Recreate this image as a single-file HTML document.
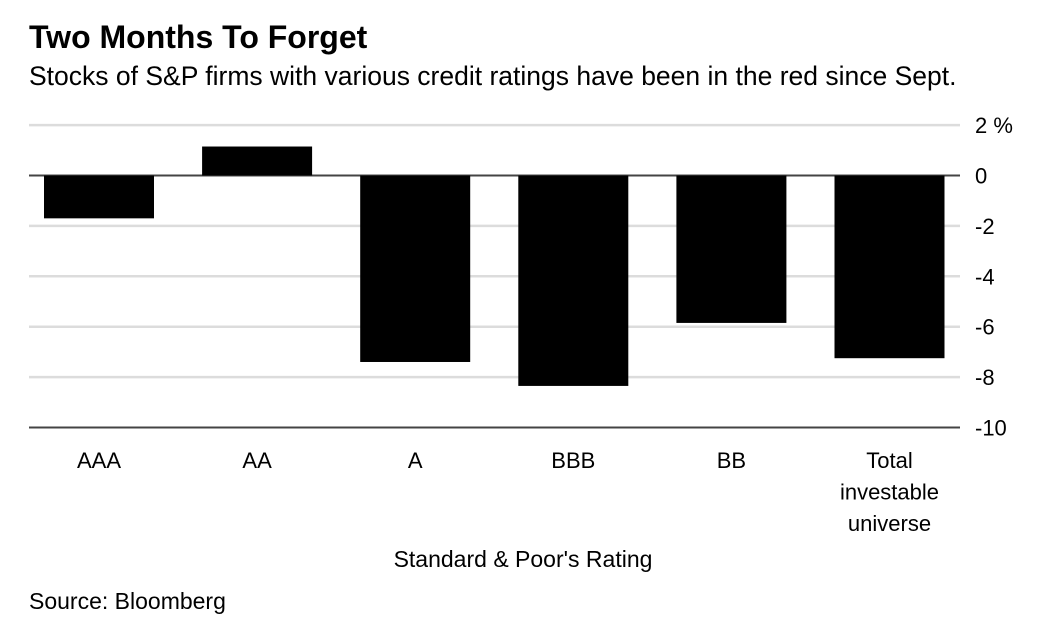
<!DOCTYPE html>
<html><head><meta charset="utf-8"><style>
html,body{margin:0;padding:0;background:#fff;width:1040px;height:624px;overflow:hidden;font-family:"Liberation Sans",sans-serif;}
</style></head><body>
<svg width="1040" height="624" xmlns="http://www.w3.org/2000/svg">
<text x="29" y="48" font-size="32" font-weight="bold" fill="#000">Two Months To Forget</text>
<text x="29" y="85" font-size="26.5" fill="#000">Stocks of S&amp;P firms with various credit ratings have been in the red since Sept.</text>
<g id="grid"></g><g id="bars"></g><g id="xl"></g>
<text x="523" y="567" font-size="23" text-anchor="middle" fill="#000">Standard &amp; Poor's Rating</text>
<text x="29" y="609" font-size="23" fill="#000">Source: Bloomberg</text>
</svg>
<script>
const categories=[["AAA"],["AA"],["A"],["BBB"],["BB"],["Total","investable","universe"]];
const values=[-1.7,1.15,-7.4,-8.35,-5.85,-7.25];
const ticks=[2,0,-2,-4,-6,-8,-10];
const tickLabels=["2 %","0","-2","-4","-6","-8","-10"];
const NS="http://www.w3.org/2000/svg";
const y=v=>175.5-v*25.2;
const xc=i=>99+i*158.1;
const BW=110;
function mk(t,a,p){const e=document.createElementNS(NS,t);for(const k in a)e.setAttribute(k,a[k]);p.appendChild(e);return e;}
const g=document.getElementById('grid');
ticks.forEach((t,i)=>{
  const strong=(t===0||t===-10);
  const l=mk('line',{x1:29,x2:960,y1:y(t),y2:y(t),stroke:strong?'#444':'#dcdcdc','stroke-width':strong?2:2.5},g);
  
  
  const tx=mk('text',{x:975,y:y(t)+8,'font-size':22,fill:'#000'},g);
  tx.textContent=tickLabels[i];
  
  
});
const b=document.getElementById('bars');
values.forEach((v,i)=>{
  const r=mk('rect',{x:xc(i)-BW/2,y:Math.min(y(v),y(0)),width:BW,height:Math.abs(y(v)-y(0)),fill:'#000'},b);
  
  
});
const xl=document.getElementById('xl');
categories.forEach((c,i)=>{
  c.forEach((s,j)=>{
    const t=mk('text',{x:xc(i),y:468+j*31.5,'font-size':22,'text-anchor':'middle',fill:'#000'},xl);
    t.textContent=s;
    
    
  });
});
</script>
</body></html>
